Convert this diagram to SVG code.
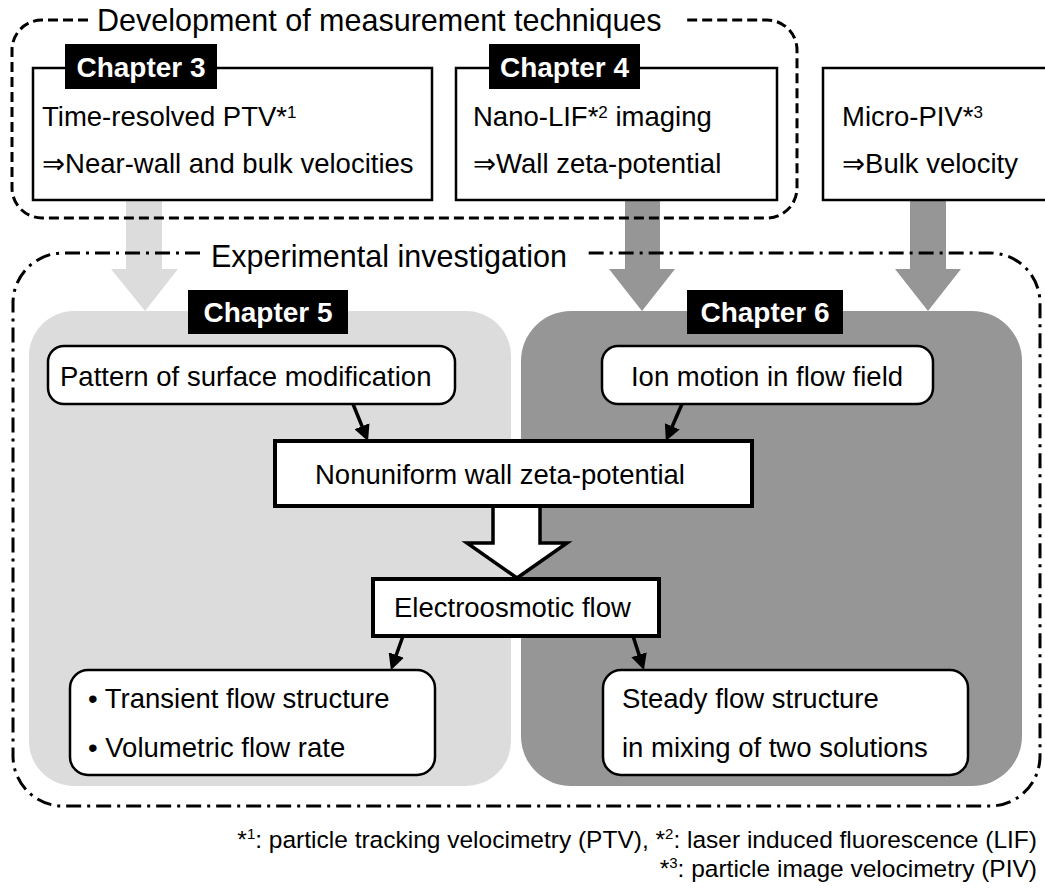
<svg xmlns="http://www.w3.org/2000/svg" width="1045" height="889" viewBox="0 0 1045 889">
<style>
text{font-family:"Liberation Sans",Arial,"DejaVu Sans",sans-serif;fill:#000}
.body{font-size:27.5px}
.title{font-size:30.5px}
.chap{font-size:28px;font-weight:bold;fill:#fff}
.foot{font-size:24.5px}
.box{fill:#fff;stroke:#000;stroke-width:2.5}
.thick{fill:#fff;stroke:#000;stroke-width:4}
.lbl{fill:#000}
.light{fill:#dcdcdc}
.dark{fill:#969696}
.conn{stroke:#000;stroke-width:3.5;fill:none;marker-end:url(#ah)}
.dashbox{fill:none;stroke:#000;stroke-width:3;stroke-dasharray:10 5}
.dotbox{fill:none;stroke:#000;stroke-width:3;stroke-dasharray:15 6 3 6}
</style>
<defs>
<marker id="ah" viewBox="0 0 10 10" refX="2" refY="5" markerWidth="4.6" markerHeight="4.6" orient="auto" markerUnits="strokeWidth">
<path d="M0,0 L10,5 L0,10 z" fill="#000"/>
</marker>
</defs>
<rect width="1045" height="889" fill="#fff"/>

<g id="panel-ch5">
<rect class="light" x="29" y="311" width="482" height="475" rx="45" ry="45"/>
</g>
<g id="panel-ch6">
<rect class="dark" x="521" y="311" width="501" height="475" rx="50" ry="50"/>
</g>

<g id="gray-arrows">
<polygon class="light" points="126,201 162,201 162,269 178,269 145,311 111,269 126,269"/>
<polygon class="dark" points="625,201 660,201 660,269 675,269 642,311 609,269 625,269"/>
<polygon class="dark" points="910,201 946,201 946,269 961,269 928,311 895,269 910,269"/>
</g>

<g id="group-measurement">
<path class="dashbox" d="M88,20 H42 A30,30 0 0 0 12,50 V188 A30,30 0 0 0 42,218 H767 A30,30 0 0 0 797,188 V50 A30,30 0 0 0 767,20 H683"/>
<text class="title" x="97" y="31">Development of measurement techniques</text>
</g>

<g id="group-experimental">
<path class="dotbox" d="M200,253 H63 A50,50 0 0 0 13,303 V756 A50,50 0 0 0 63,806 H990 A50,50 0 0 0 1040,756 V303 A50,50 0 0 0 990,253 H587"/>
<text class="title" x="211" y="267">Experimental investigation</text>
</g>

<g id="node-ch3">
<rect class="box" x="33" y="68" width="399" height="132"/>
<rect class="lbl" x="65" y="44" width="152" height="45"/>
<text class="chap" x="141" y="77" text-anchor="middle">Chapter 3</text>
<text class="body" x="42" y="126">Time-resolved PTV*<tspan font-size="17" dy="-8">1</tspan></text>
<text class="body" x="42" y="173">⇒Near-wall and bulk velocities</text>
</g>

<g id="node-ch4">
<rect class="box" x="456" y="68" width="321" height="132"/>
<rect class="lbl" x="489" y="44" width="151" height="45"/>
<text class="chap" x="564.5" y="77" text-anchor="middle">Chapter 4</text>
<text class="body" x="473" y="126">Nano-LIF*<tspan font-size="17" dy="-8">2</tspan><tspan dy="8"> imaging</tspan></text>
<text class="body" x="473" y="173">⇒Wall zeta-potential</text>
</g>

<g id="node-micropiv">
<rect class="box" x="823" y="68" width="250" height="132"/>
<text class="body" x="842" y="126">Micro-PIV*<tspan font-size="17" dy="-8">3</tspan></text>
<text class="body" x="842" y="173">⇒Bulk velocity</text>
</g>

<g id="label-ch5">
<rect class="lbl" x="188" y="290" width="160" height="44"/>
<text class="chap" x="268" y="322" text-anchor="middle">Chapter 5</text>
</g>
<g id="label-ch6">
<rect class="lbl" x="687" y="290" width="156" height="44"/>
<text class="chap" x="765" y="322" text-anchor="middle">Chapter 6</text>
</g>

<g id="node-pattern">
<rect class="box" x="48" y="346" width="407" height="58" rx="16" ry="16"/>
<text class="body" x="60" y="386">Pattern of surface modification</text>
</g>

<g id="node-ion">
<rect class="box" x="602" y="346" width="331" height="58" rx="16" ry="16"/>
<text class="body" x="767" y="386" text-anchor="middle">Ion motion in flow field</text>
</g>

<g id="block-arrow">
<polygon fill="#fff" stroke="#000" stroke-width="3.5" stroke-linejoin="miter" points="493,506 493,543 467,543 517,578 567,543 540,543 540,506"/>
</g>

<g id="node-nonuniform">
<rect class="thick" x="275" y="441" width="477" height="65"/>
<text class="body" x="315" y="484">Nonuniform wall zeta-potential</text>
</g>

<g id="node-eof">
<rect class="thick" x="373" y="579" width="286" height="57"/>
<text class="body" x="394" y="617">Electroosmotic flow</text>
</g>

<g id="node-transient">
<rect class="box" x="70" y="670" width="365" height="105" rx="18" ry="18"/>
<text class="body" x="88" y="708">• Transient flow structure</text>
<text class="body" x="88" y="757">• Volumetric flow rate</text>
</g>

<g id="node-steady">
<rect class="box" x="603" y="670" width="365" height="105" rx="18" ry="18"/>
<text class="body" x="622" y="708">Steady flow structure</text>
<text class="body" x="622" y="757">in mixing of two solutions</text>
</g>

<g id="connectors">
<path class="conn" d="M353,404 L363.2,429.2"/>
<path class="conn" d="M682,404 L671,429.3"/>
<path class="conn" d="M403,636 L395.2,658"/>
<path class="conn" d="M633,636 L640,657.8"/>
</g>

<g id="footnotes">
<text class="foot" x="1037" y="848" text-anchor="end">*<tspan font-size="15" dy="-9">1</tspan><tspan dy="9">: particle tracking velocimetry (PTV), *</tspan><tspan font-size="15" dy="-9">2</tspan><tspan dy="9">: laser induced fluorescence (LIF)</tspan></text>
<text class="foot" x="1037" y="877" text-anchor="end">*<tspan font-size="15" dy="-9">3</tspan><tspan dy="9">: particle image velocimetry (PIV)</tspan></text>
</g>
</svg>
